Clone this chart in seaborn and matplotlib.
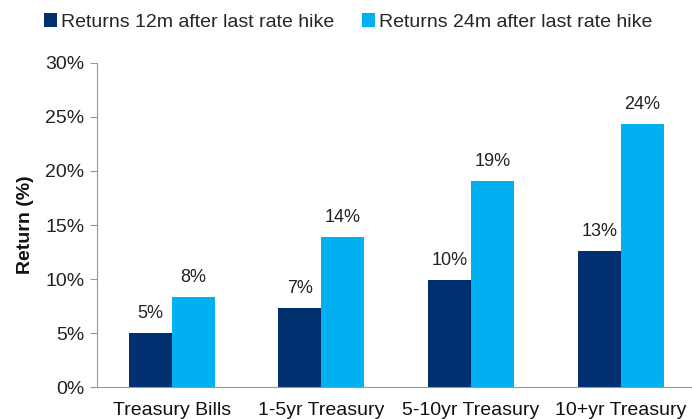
import matplotlib
matplotlib.use("Agg")
import matplotlib.pyplot as plt
import seaborn as sns
import pandas as pd
import numpy as np
from matplotlib.ticker import FuncFormatter, FixedLocator
from matplotlib.patches import Patch

categories = ["Treasury Bills", "1-5yr Treasury", "5-10yr Treasury", "10+yr Treasury"]
series_names = ["Returns 12m after last rate hike", "Returns 24m after last rate hike"]
returns_12m = [5.0, 7.3, 9.9, 12.6]
returns_24m = [8.3, 13.9, 19.1, 24.3]
labels_12m = ["5%", "7%", "10%", "13%"]
labels_24m = ["8%", "14%", "19%", "24%"]
colors = ["#00306F", "#00B0F0"]

df = pd.DataFrame({
    "Category": categories * 2,
    "Series": [series_names[0]] * 4 + [series_names[1]] * 4,
    "Return": returns_12m + returns_24m,
})

sns.set_style("white")
plt.rcParams["font.family"] = ["Liberation Sans", "DejaVu Sans"]

fig = plt.figure(figsize=(6.92, 4.19), dpi=100)
ax = fig.add_axes([0.140, 0.076, 0.865, 0.774])

sns.barplot(data=df, x="Category", y="Return", hue="Series", order=categories,
            hue_order=series_names, palette=colors, width=0.575, saturation=1,
            ax=ax, legend=False, edgecolor="none")

for container, labs in zip(ax.containers, [labels_12m, labels_24m]):
    ax.bar_label(container, labels=labs, padding=8, fontsize=13, color="#222222")

ax.set_ylim(0, 30)
ax.set_xlim(-0.5, 3.5)
ax.yaxis.set_major_locator(FixedLocator([0, 5, 10, 15, 20, 25, 30]))
ax.yaxis.set_major_formatter(FuncFormatter(lambda v, p: f"{int(v)}%"))
ax.set_ylabel("Return (%)", fontsize=14, fontweight="bold", color="#111111", labelpad=8)
ax.set_xlabel("")

ax.set_xticks(range(len(categories)))
ax.set_xticklabels(categories)
ax.set_xticks([-0.5, 0.5, 1.5, 2.5, 3.5], minor=True)
ax.tick_params(axis="x", which="major", length=0, labelsize=14, pad=11, labelcolor="#111111")
ax.tick_params(axis="x", which="minor", length=5, width=0.8, color="#999999", direction="out")
ax.tick_params(axis="y", which="major", length=5, width=0.8, color="#999999", direction="out",
               labelsize=14, labelcolor="#222222", left=True, pad=4)

for s in ["top", "right"]:
    ax.spines[s].set_visible(False)
for s in ["left", "bottom"]:
    ax.spines[s].set_color("#999999")
    ax.spines[s].set_linewidth(0.8)

handles = [Patch(facecolor=c, edgecolor="none") for c in colors]
fig.legend(handles, series_names, loc="upper left", bbox_to_anchor=(0.038, 1.01), ncol=2,
           frameon=False, fontsize=14, handlelength=0.7, handleheight=0.7,
           handletextpad=0.2, columnspacing=1.4)

fig.savefig("out.png", dpi=100)
